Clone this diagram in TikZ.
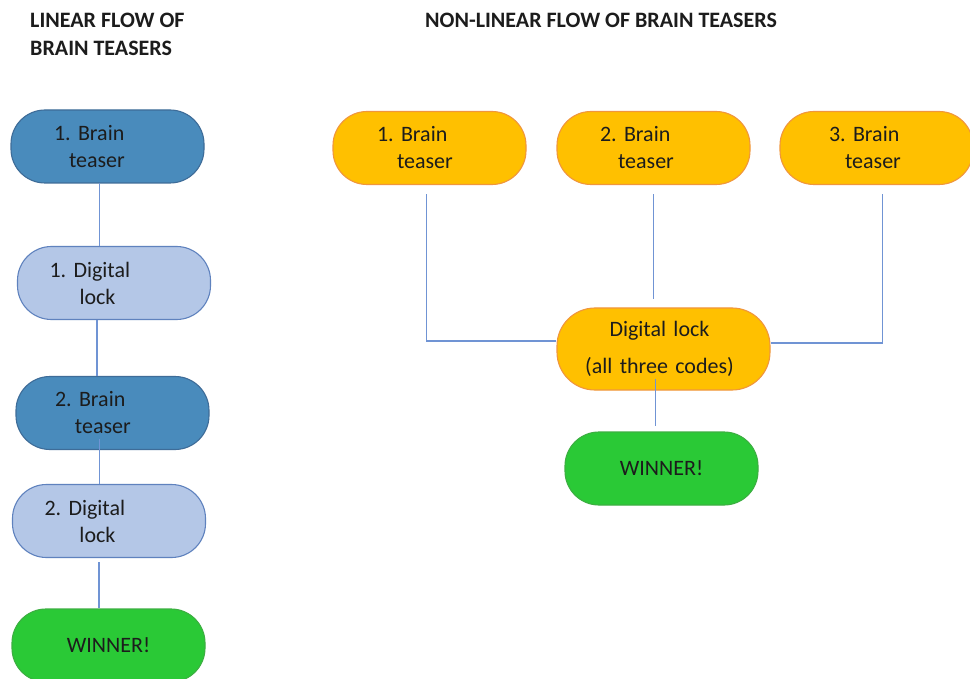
\documentclass[tikz,border=0pt]{standalone}
\usepackage{fontspec}
\setmainfont{Carlito}
\usetikzlibrary{positioning}
\definecolor{darkblue}{RGB}{73,139,188}
\definecolor{darkblueline}{RGB}{62,108,152}
\definecolor{lightblue}{RGB}{180,199,231}
\definecolor{lightblueline}{RGB}{95,130,190}
\definecolor{orangefill}{RGB}{255,192,0}
\definecolor{orangeline}{RGB}{240,150,60}
\definecolor{greenfill}{RGB}{42,201,54}
\definecolor{greenline}{RGB}{60,175,65}
\definecolor{linkblue}{RGB}{112,148,212}
\definecolor{textdark}{RGB}{28,28,28}
\tikzset{
	every node/.style = {text=textdark},
	pill/.style = {rectangle, rounded corners=34pt, minimum width=193pt, minimum height=73pt,
		text width=129pt, inner xsep=32pt, align=left, line width=1.1pt,
		font=\fontsize{22}{27}\selectfont\frenchspacing},
	brainbox/.style = {pill, fill=darkblue, draw=darkblueline},
	lockbox/.style = {pill, fill=lightblue, draw=lightblueline},
	orangebox/.style = {pill, fill=orangefill, draw=orangeline},
	winbox/.style = {pill, align=center, fill=greenfill, draw=greenline},
	heading/.style = {anchor=north west, inner sep=0pt, align=left,
		font=\fontsize{22}{28}\selectfont\bfseries},
	link/.style = {draw=linkblue, line width=1.5pt}
}
\begin{document}
\begin{tikzpicture}[x=1pt, y=-1pt]
		\useasboundingbox (0,0) rectangle (970,679);
		\fill[white] (0,0) rectangle (970,679);
		\clip (0,0) rectangle (970,679);
		
		% headings
		\node[heading] (tlin) at (30,13) {LINEAR FLOW OF\\BRAIN TEASERS};
		\node[heading] (tnon) at (425,13) {NON-LINEAR FLOW OF BRAIN TEASERS};
		
		% linear flow
		\node[brainbox] (LB1) at (107.5,146.5) {\hspace*{11pt}1. Brain\\\hspace*{26pt}teaser};
		\node[lockbox, minimum width=192pt] (LD1) at (114,283) {1. Digital\\\hspace*{30pt}lock};
		\node[brainbox] (LB2) at (112.5,413) {\hspace*{7pt}2. Brain\\\hspace*{27pt}teaser};
		\node[lockbox, minimum width=192pt] (LD2) at (109,521) {2. Digital\\\hspace*{35pt}lock};
		\node[winbox] (LW) at (108.5,645.5) {WINNER!};
		
		\draw[link] ([xshift=-8pt, yshift=1pt]LB1.south) -- ([xshift=-8pt]LB1.south |- LD1.north);
		\draw[link] ([xshift=-17pt]LD1.south) -- ([xshift=-17pt]LD1.south |- LB2.north);
		\draw[link] ([xshift=-13pt, yshift=11pt]LB2.south) -- ([xshift=-13pt]LB2.south |- LD2.north);
		\draw[link] ([xshift=-10pt, yshift=-4pt]LD2.south) -- ([xshift=-10pt]LD2.south |- LW.north);
		
		% non-linear flow
		\foreach \n/\x/\a/\b in {1/429.5/12/32, 2/653.5/11/29, 3/876.5/17/33}
			\node[orangebox] (RB\n) at (\x,148) {\hspace*{\a pt}\n. Brain\\\hspace*{\b pt}teaser};
		\node[orangebox, minimum width=213pt, minimum height=82pt, text width=149pt, align=center,
			rounded corners=38pt] (RD) at (663.5,349) {\hspace*{-8pt}Digital lock\\[10pt]\hspace*{-8pt}(all three codes)};
		\node[winbox, minimum width=191pt] (RW) at (661.5,468.5) {WINNER!};
		
		\draw[link] ([xshift=-3pt, yshift=-9pt]RB1.south) |- ([yshift=8pt]RD.west);
		\draw[link] ([yshift=-9pt]RB2.south) -- ([yshift=8pt]RB2.south |- RD.north);
		\draw[link] ([xshift=6pt, yshift=-9pt]RB3.south) |- ([yshift=6pt]RD.east);
		\draw[link] ([xshift=-8pt, yshift=12pt]RD.south) -- ([xshift=-8pt, yshift=5pt]RD.south |- RW.north);
	\end{tikzpicture}
\end{document}
